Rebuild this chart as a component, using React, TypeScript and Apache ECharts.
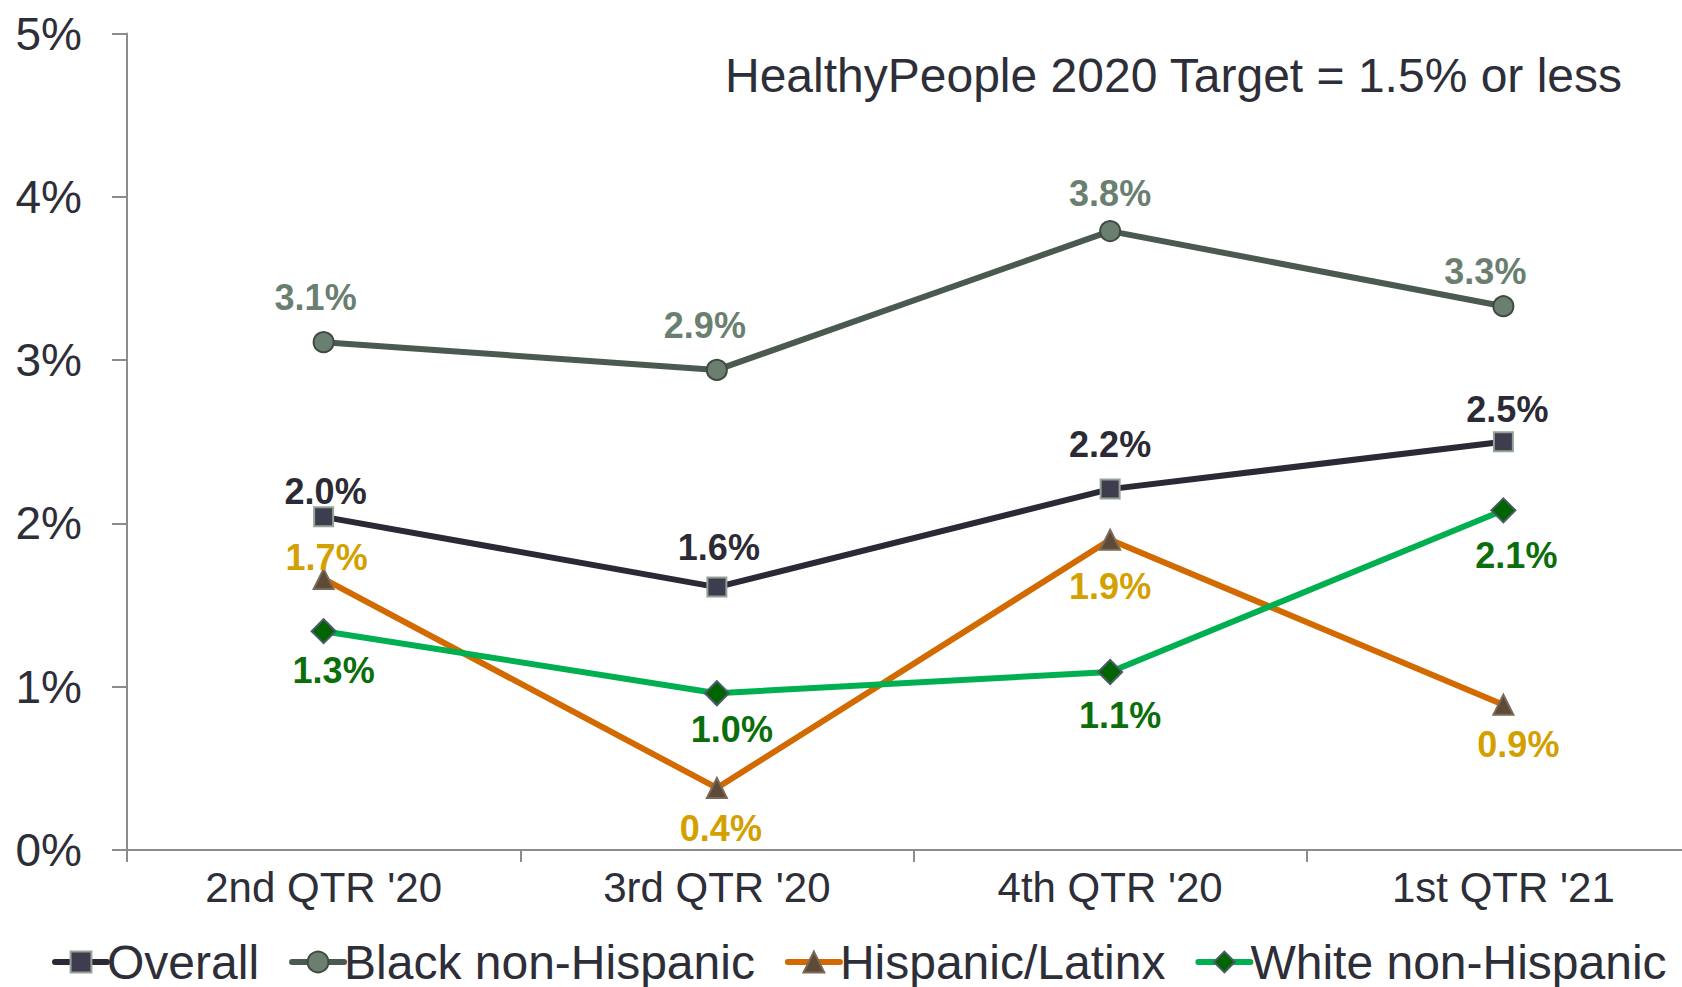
import React, { useEffect, useRef } from "react";
import * as echarts from "echarts";

const categories = ["2nd QTR '20", "3rd QTR '20", "4th QTR '20", "1st QTR '21"];
const overall = [2.04, 1.61, 2.21, 2.5];
const blackNonHispanic = [3.11, 2.94, 3.79, 3.33];
const hispanicLatinx = [1.66, 0.38, 1.9, 0.89];
const whiteNonHispanic = [1.34, 0.96, 1.09, 2.08];
const yTicks = [0, 1, 2, 3, 4, 5];

const overallOffsets = [[2, -25], [2, -40], [0, -45], [4, -32]];
const blackOffsets = [[-8, -45], [-12, -44], [0, -38], [-18, -35]];
const hispanicOffsets = [[3, -21], [4, 41], [0, 47], [15, 40]];
const whiteOffsets = [[10, 39], [15, 36], [10, 43], [13, 45]];

const FONT = "'Liberation Sans', Arial, sans-serif";
const TEXT = "#2e2e38";

function makeSeries(
  name: string,
  values: number[],
  offsets: number[][],
  lineColor: string,
  symbol: string,
  symbolSize: number,
  fill: string,
  border: string,
  labelColor: string
) {
  return {
    name,
    type: "line",
    data: values.map((v, i) => ({
      value: v,
      label: { offset: offsets[i] },
    })),
    symbol,
    symbolSize,
    showAllSymbol: true,
    lineStyle: { color: lineColor, width: 6 },
    itemStyle: { color: fill, borderColor: border, borderWidth: 2 },
    label: {
      show: true,
      position: "inside",
      formatter: (p: any) => `${Number(p.value).toFixed(1)}%`,
      color: labelColor,
      fontSize: 36,
      fontWeight: "bold",
      fontFamily: FONT,
    },
    emphasis: { disabled: true },
  };
}

export default function App() {
  const ref = useRef<HTMLDivElement>(null);
  useEffect(() => {
    if (!ref.current) return;
    const chart = echarts.init(ref.current, undefined, { renderer: "svg" });
    chart.setOption({
      animation: false,
      backgroundColor: "#ffffff",
      grid: {
        left: 127,
        width: 1573,
        top: 33.5,
        bottom: 137,
        containLabel: false,
        outerBoundsMode: "none",
      },
      graphic: [
        {
          type: "text",
          x: 725,
          y: 75,
          style: {
            text: "HealthyPeople 2020 Target = 1.5% or less",
            fontSize: 48,
            fontFamily: FONT,
            fill: TEXT,
            verticalAlign: "middle",
          },
        },
      ],
      legend: {
        left: 47,
        top: 933,
        itemWidth: 52,
        itemHeight: 26,
        itemGap: 30,
        lineStyle: { width: 6, cap: "round" },
        textStyle: {
          fontSize: 48,
          lineHeight: 48,
          color: TEXT,
          fontFamily: FONT,
          padding: [0, 0, 0, -5],
        },
        data: ["Overall", "Black non-Hispanic", "Hispanic/Latinx", "White non-Hispanic"],
      },
      xAxis: {
        type: "category",
        data: categories,
        boundaryGap: true,
        axisLine: { lineStyle: { color: "#8c8c8c", width: 2 } },
        axisTick: { show: true, length: 12, lineStyle: { color: "#8c8c8c", width: 2 } },
        axisLabel: { fontSize: 42, color: TEXT, fontFamily: FONT, margin: 16 },
        splitLine: { show: false },
      },
      yAxis: {
        type: "value",
        min: yTicks[0],
        max: yTicks[yTicks.length - 1],
        interval: 1,
        axisLine: { show: true, lineStyle: { color: "#8c8c8c", width: 2 } },
        axisTick: { show: true, length: 15, lineStyle: { color: "#8c8c8c", width: 2 } },
        axisLabel: { fontSize: 46, color: TEXT, fontFamily: FONT, margin: 45, formatter: "{value}%" },
        splitLine: { show: false },
      },
      series: [
        makeSeries("Overall", overall, overallOffsets, "#2a2935", "rect", 19, "#3e3d50", "#94a395", "#2b2a35"),
        makeSeries("Black non-Hispanic", blackNonHispanic, blackOffsets, "#4a5a50", "circle", 20, "#6b7f71", "#3e4a42", "#6b7f71"),
        makeSeries("Hispanic/Latinx", hispanicLatinx, hispanicOffsets, "#d26a00", "triangle", 20, "#5e4a37", "#7a6a5a", "#d4a000"),
        makeSeries("White non-Hispanic", whiteNonHispanic, whiteOffsets, "#00b050", "diamond", 24, "#006400", "#4a5a6a", "#0a6e0a"),
      ],
    });
    return () => chart.dispose();
  }, []);
  return (
    <div
      ref={ref}
      style={{ position: "absolute", left: 0, top: 0, width: 1682, height: 987 }}
    />
  );
}
